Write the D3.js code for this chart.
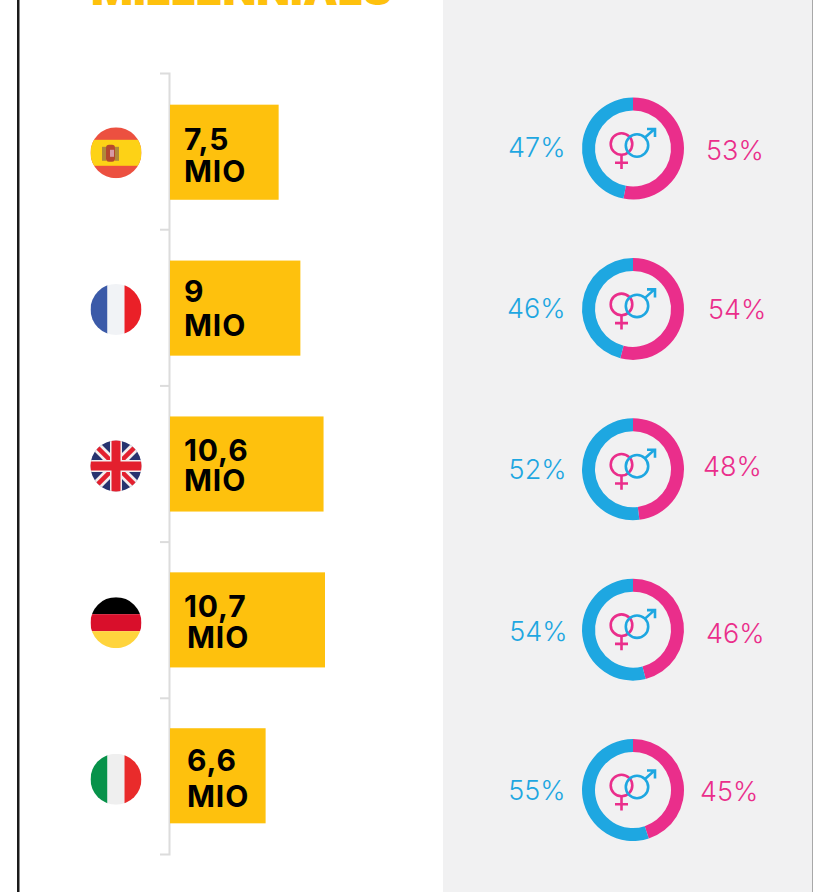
<!DOCTYPE html>
<html>
<head>
<meta charset="utf-8">
<script src="https://cdn.jsdelivr.net/npm/d3@7"></script>
<style>
  html, body { margin: 0; padding: 0; background: #fff; }
  svg { display: block; }
  text { font-family: Inter, "Open Sans", sans-serif; }
</style>
</head>
<body>
<svg id="chart" width="813" height="892"></svg>
<script>
const width = 813,
  height = 892

const countries = ['es', 'fr', 'uk', 'de', 'it']
const millions = [7.5, 9, 10.6, 10.7, 6.6]
const amountLabels = ['7,5', '9', '10,6', '10,7', '6,6']
const womenShare = [53, 54, 48, 46, 45]
const menShare = [47, 46, 52, 54, 55]

const yellow = '#fec10d',
  blue = '#1ea7e1',
  pink = '#ea2e8b',
  rule = '#dcdcdc'

// labels in the original sit by hand, not on a grid: [x, first line, second line]
const amountNudge = [[0, 45.5, 77], [0, 41, 75], [0, 45, 75], [0, 45, 75.5], [3, 43, 78.5]]
const mioNudge = [0, 0, 0, 3, 3]
const menNudge = [[0.5, -1], [0.5, 0], [1.5, 1], [2.5, 2], [0.5, 1]]
const womenNudge = [[0, 1], [2, 0], [-3, -3], [0, 3], [-6, 1]]

const svg = d3.select('#chart')

let x = d3.scaleLinear().domain([0, 10.7]).range([170, 325])
let y = d3.scaleBand().domain(countries).range([73.5, 854.5]).paddingInner(0.39).paddingOuter(0.2)
let band = d3.scaleBand().domain(countries).range([73.5, 854.5])

// page background
svg.append('rect').attr('x', 443).attr('width', width - 443).attr('height', height).attr('fill', '#f1f1f2')
svg.append('rect').attr('x', 17).attr('width', 2.5).attr('height', height).attr('fill', '#1a1a1a')
svg.append('rect').attr('x', 812).attr('width', 1).attr('height', height).attr('fill', '#a8a8a8')

svg.append('text')
  .attr('x', 91)
  .attr('y', 5)
  .attr('font-size', 44)
  .attr('font-weight', 900)
  .attr('fill', yellow)
  .attr('textLength', 301)
  .attr('lengthAdjust', 'spacingAndGlyphs')
  .text('MILLENNIALS')

// bracket axis
let axis = svg.append('g').attr('fill', 'none').attr('stroke', rule).attr('stroke-width', 2)
axis.append('path').attr('d', `M160,${band.range()[0]}H169.5V${band.range()[1]}H160`)
axis.selectAll('line')
  .data(countries.slice(1))
  .join('line')
  .attr('x1', 160)
  .attr('x2', 169)
  .attr('y1', d => band(d))
  .attr('y2', d => band(d))

// bars
let rows = svg.selectAll('g.row')
  .data(countries)
  .join('g')
  .attr('class', 'row')

rows.append('rect')
  .attr('x', x(0))
  .attr('y', d => y(d))
  .attr('width', (d, i) => x(millions[i]) - x(0))
  .attr('height', y.bandwidth())
  .attr('fill', yellow)

let amount = rows.append('text')
  .attr('font-size', 30)
  .attr('font-weight', 700)
  .attr('letter-spacing', 0.9)
  .attr('fill', '#000')

amount.append('tspan')
  .attr('x', (d, i) => x(0) + 14 + amountNudge[i][0])
  .attr('y', (d, i) => y(d) + amountNudge[i][1])
  .text((d, i) => amountLabels[i])

amount.append('tspan')
  .attr('x', (d, i) => x(0) + 14 + mioNudge[i])
  .attr('y', (d, i) => y(d) + amountNudge[i][2])
  .text('MIO')

// flags
let flagR = 25.5
let flagX = 116
let flagY = d3.scalePoint().domain(countries).range([152.8, 779.3])

svg.append('defs').append('clipPath').attr('id', 'flagClip')
  .append('circle').attr('r', flagR)

let flags = svg.selectAll('g.flag')
  .data(countries)
  .join('g')
  .attr('class', 'flag')
  .attr('transform', d => `translate(${flagX},${flagY(d)})`)
  .attr('clip-path', 'url(#flagClip)')

function bands(g, colors, vertical) {
  let s = d3.scaleBand().domain(d3.range(colors.length)).range([-flagR, flagR])
  colors.forEach((c, i) => {
    g.append('rect')
      .attr('x', vertical ? s(i) : -flagR)
      .attr('y', vertical ? -flagR : s(i))
      .attr('width', vertical ? s.bandwidth() : flagR * 2)
      .attr('height', vertical ? flagR * 2 : s.bandwidth())
      .attr('fill', c)
  })
}

let es = flags.filter(d => d === 'es')
es.append('rect').attr('x', -flagR).attr('y', -flagR).attr('width', flagR * 2).attr('height', flagR * 2).attr('fill', '#ec5040')
es.append('rect').attr('x', -flagR).attr('y', -13).attr('width', flagR * 2).attr('height', 26).attr('fill', '#fdd216')
es.append('rect').attr('x', -14).attr('y', -6).attr('width', 4).attr('height', 14).attr('fill', '#b08a3a')
es.append('rect').attr('x', -1).attr('y', -6).attr('width', 4).attr('height', 14).attr('fill', '#b08a3a')
es.append('rect').attr('x', -10).attr('y', -8).attr('width', 9).attr('height', 17).attr('rx', 3).attr('fill', '#b5482d')
es.append('rect').attr('x', -6).attr('y', -3).attr('width', 4).attr('height', 7).attr('fill', '#d79aa5')

bands(flags.filter(d => d === 'fr'), ['#3b5aa8', '#f1f3f6', '#ea2028'], true)
bands(flags.filter(d => d === 'de'), ['#000', '#d90f2b', '#ffd43d'], false)
bands(flags.filter(d => d === 'it'), ['#07924a', '#efefef', '#e92b2b'], true)

let uk = flags.filter(d => d === 'uk')
uk.append('rect').attr('x', -flagR).attr('y', -flagR).attr('width', flagR * 2).attr('height', flagR * 2).attr('fill', '#27336f')
let ukLine = (x1, y1, x2, y2, c, w) => uk.append('line')
  .attr('x1', x1).attr('y1', y1).attr('x2', x2).attr('y2', y2)
  .attr('stroke', c).attr('stroke-width', w)
ukLine(-26, -26, 26, 26, '#f3eeee', 10)
ukLine(-26, 26, 26, -26, '#f3eeee', 10)
ukLine(-26, -26, 26, 26, '#e3202e', 4.5)
ukLine(-26, 26, 26, -26, '#e3202e', 4.5)
ukLine(0, -26, 0, 26, '#f3eeee', 12)
ukLine(-26, 0, 26, 0, '#f3eeee', 12)
ukLine(0, -26, 0, 26, '#e3202e', 9)
ukLine(-26, 0, 26, 0, '#e3202e', 9)

// donuts
let donutX = 633
let donutY = d3.scalePoint().domain(countries).range([148.5, 790])
let pie = d3.pie().sort(null).value(d => d)
let arc = d3.arc().innerRadius(38).outerRadius(51)

let donuts = svg.selectAll('g.donut')
  .data(countries)
  .join('g')
  .attr('class', 'donut')
  .attr('transform', d => `translate(${donutX},${donutY(d)})`)

donuts.selectAll('path.slice')
  .data((d, i) => pie([womenShare[i], menShare[i]]))
  .join('path')
  .attr('class', 'slice')
  .attr('d', arc)
  .attr('fill', (d, i) => i === 0 ? pink : blue)

let venus = donuts.append('g').attr('fill', 'none').attr('stroke', pink).attr('stroke-width', 2.6)
venus.append('circle').attr('cx', -11.5).attr('cy', -4.5).attr('r', 10.8)
venus.append('path').attr('d', 'M-11.5,6V20.5M-18,14.2H-5')

let mars = donuts.append('g').attr('fill', 'none').attr('stroke', blue).attr('stroke-width', 2.6)
mars.append('circle').attr('cx', 4).attr('cy', -3).attr('r', 11.2)
mars.append('path').attr('d', 'M12,-11L21.5,-19.5M14,-19.5H22V-11.5')

// shares
svg.selectAll('text.men')
  .data(countries)
  .join('text')
  .attr('class', 'men')
  .attr('x', (d, i) => 565 + menNudge[i][0])
  .attr('y', (d, i) => donutY(d) + 9 + menNudge[i][1])
  .attr('text-anchor', 'end')
  .attr('font-size', 27)
  .attr('font-weight', 300)
  .attr('fill', blue)
  .text((d, i) => menShare[i] + '%')

svg.selectAll('text.women')
  .data(countries)
  .join('text')
  .attr('class', 'women')
  .attr('x', (d, i) => 706 + womenNudge[i][0])
  .attr('y', (d, i) => donutY(d) + 10 + womenNudge[i][1])
  .attr('font-size', 27)
  .attr('font-weight', 300)
  .attr('fill', pink)
  .text((d, i) => womenShare[i] + '%')
</script>
</body>
</html>
